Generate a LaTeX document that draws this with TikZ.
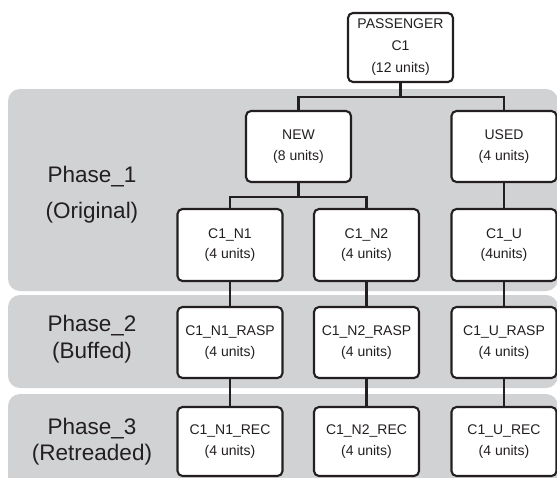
\documentclass[tikz,border=0pt]{standalone}
\usepackage{fontspec}
\setmainfont{Liberation Sans}
\definecolor{panelgray}{RGB}{209,210,212}
\definecolor{ink}{RGB}{35,31,32}
\begin{document}
\begin{tikzpicture}[x=1pt,y=-1pt,
  panel/.style={fill=panelgray, draw=none, rounded corners=12pt},
  box/.style={draw=ink, line width=2.1pt, rounded corners=5pt, fill=white,
    minimum width=105pt, minimum height=71pt, align=center, inner sep=0pt,
    text=ink, font=\fontsize{14}{20.5}\selectfont},
  phase/.style={anchor=base, text=ink, inner sep=0pt, font=\fontsize{22.5}{27}\selectfont},
  conn/.style={draw=ink, line width=2.3pt}]
\useasboundingbox (0,0) rectangle (557,477);
\begin{scope}
\clip (0,0) rectangle (557,477);
\path[panel] (8,89) rectangle (558,291);
\path[panel] (8,295) rectangle (558,388);
\path[panel] (8,394) rectangle (558,500);
\end{scope}
% phase labels
\node[phase] (p1a) at (92,182) {Phase\_1};
\node[phase] (p1b) at (92,218) {(Original)};
\node[phase] (p2a) at (92,331) {Phase\_2};
\node[phase] (p2b) at (92,358) {(Buffed)};
\node[phase] (p3a) at (92,434) {Phase\_3};
\node[phase] (p3b) at (92,460) {(Retreaded)};
% boxes
\node[box, minimum height=69pt, font=\fontsize{14}{22}\selectfont] (pass) at (400.5,47.5) {PASSENGER\\C1\\(12 units)};
\node[box] (new) at (298.5,146.5) {NEW\\(8 units)};
\node[box] (used) at (504,146.5) {USED\\(4 units)};
\node[box, minimum height=72pt] (n1) at (230,245) {C1\_N1\\(4 units)};
\node[box, minimum height=72pt] (n2) at (366.5,245) {C1\_N2\\(4 units)};
\node[box, minimum height=72pt] (u) at (504,245) {C1\_U\\(4units)};
\node[box] (n1r) at (230,342.5) {C1\_N1\_RASP\\(4 units)};
\node[box] (n2r) at (366.5,342.5) {C1\_N2\_RASP\\(4 units)};
\node[box] (ur) at (504,342.5) {C1\_U\_RASP\\(4 units)};
\node[box, minimum height=69pt] (n1c) at (230,441.5) {C1\_N1\_REC\\(4 units)};
\node[box, minimum height=69pt] (n2c) at (366.5,441.5) {C1\_N2\_REC\\(4 units)};
\node[box, minimum height=69pt] (uc) at (504,441.5) {C1\_U\_REC\\(4 units)};
% connectors
\coordinate (j1) at (400.5,97);
\coordinate (j2) at (298.5,197);
\draw[conn] (pass.south) -- (j1);
\draw[conn] (new.north) |- (j1) -| (used.north);
\draw[conn] (new.south) -- (j2);
\draw[conn] (n1.north) |- (j2) -| (n2.north);
\draw[conn] (used.south) -- (u.north);
\draw[conn, line width=1.4pt] (n1.south) -- (n1r.north);
\draw[conn] (n2.south) -- (n2r.north);
\draw[conn] (u.south) -- (ur.north);
\draw[conn] (n1r.south) -- (n1c.north);
\draw[conn] (n2r.south) -- (n2c.north);
\draw[conn] (ur.south) -- (uc.north);
\end{tikzpicture}
\end{document}
